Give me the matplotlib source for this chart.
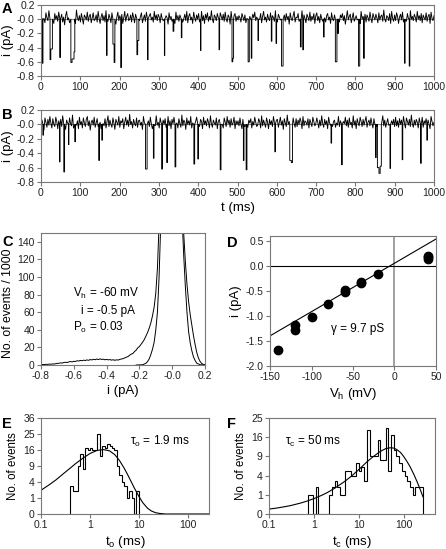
import numpy as np
import matplotlib
matplotlib.use('Agg')
import matplotlib.pyplot as plt

plt.rcParams['font.family'] = ['Liberation Sans', 'DejaVu Sans']
plt.rcParams['mathtext.fontset'] = 'custom'
plt.rcParams['mathtext.rm'] = 'Liberation Sans'
plt.rcParams['mathtext.it'] = 'Liberation Sans:italic'
plt.rcParams['axes.unicode_minus'] = False

# ---- traces A and B: baseline noise (0.01 pA units, 2.5 ms steps) + openings (start ms, dur ms, pA)
noise_a = [4, -3, 7, 1, -5, 9, 2, -2, 12, -4, 3, 6, -1, -6, 8, 0, 5, -3, 10, -2,
           1, 7, -4, 3, -8, 5, 11, -1, 2, -5, 6, 0, 9, -3, 4, -6, 13, 2, -2, 5,
           -4, 8, 1, -7, 6, 3, -1, 10, -3, 4, 7, -5, 2, 9, -2, 0, 6, -4, 11, 1,
           -6, 3, 8, -2, 5, -4, 12, 0, -3, 7, 2, -5, 9, 4, -1, 6, -7, 3, 10, -2,
           5, -1, 7, -6, 2, 11, -3, 4, 8, -2, 0, 6, -4, 9, 3, -5, 7, 1, -3, 12,
           -2, 4, 9, -5, 1, 6, -3, 10, 2, -6, 5, 8, -1, 3, -4, 11, 0, 6, -2, 7,
           3, -5, 8, 1, -2, 13, -4, 5, 2, -7, 9, 0, 4, -3, 7, 2, -6, 10, -1, 5,
           -3, 6, 2, 9, -4, 1, 7, -2, 11, -5, 4, 8, -1, 3, -6, 10, 2, -3, 6, 0,
           8, -4, 3, 11, -2, 5, -6, 7, 1, 9, -3, 4, -1, 12, 0, -5, 6, 3, -2, 8,
           2, -6, 9, 4, -1, 7, -3, 10, 0, -4, 6, 3, -7, 11, 2, -2, 5, 8, -3, 4,
           -1, 5, 2, -4, 8, 3, -2, 6, -5, 1, 9, -3, 4, 0, -6, 7, 2, 10, -2, 3,
           6, -3, 0, 8, -5, 4, 11, -1, 3, -4, 7, 1, -2, 9, -6, 5, 2, -3, 12, 0,
           -4, 7, 3, -1, 10, -5, 2, 6, -3, 8, 0, 4, -7, 9, 1, -2, 5, 11, -4, 3,
           2, 8, -3, 5, -1, 12, -4, 6, 1, -5, 7, 3, -2, 10, -3, 4, 0, 8, -6, 5,
           9, -2, 4, -5, 7, 1, -3, 11, 2, -4, 5, 8, -1, 3, -6, 9, 0, -2, 6, 4,
           -3, 10, 1, -4, 6, 2, 8, -2, 5, -7, 3, 12, -1, 4, 7, -5, 2, 9, -3, 1,
           5, -1, 8, 3, -6, 11, 0, 4, -2, 7, -4, 6, 2, -3, 10, 1, -5, 8, 3, -1,
           7, 2, -5, 9, -1, 4, 6, -3, 13, 0, -4, 5, 3, -2, 8, -6, 11, 1, -3, 6,
           -2, 9, 4, -6, 3, 7, -1, 10, -4, 2, 6, -3, 8, 1, -5, 12, 0, 4, -2, 7,
           3, -4, 11, 0, 5, -2, 8, -5, 6, 2, -1, 9, -3, 4, 7, -6, 10, 1, -2, 5]
noise_b = [-2, 6, 1, -8, 9, 3, -4, 7, -1, 11, 2, -5, 8, 0, -3, 10, 4, -6, 5, 1,
           7, -3, 12, -1, 4, -7, 6, 2, -4, 9, 1, -2, 13, -5, 3, 8, -1, 5, -6, 10,
           0, 4, -5, 9, 2, -3, 7, 11, -2, 5, -8, 3, 6, -1, 10, -4, 2, 8, -3, 6,
           3, -6, 10, 1, -2, 8, -5, 4, 12, -3, 6, 0, -4, 9, 2, -7, 7, 3, -1, 11,
           -4, 5, 2, 8, -6, 3, 10, -1, 6, -3, 14, 0, 4, -5, 7, 1, -2, 9, -4, 5,
           6, -1, 3, -7, 11, 2, -4, 8, 0, 5, -3, 10, 1, -6, 7, 4, -2, 12, -1, 3,
           -5, 9, 2, -3, 6, 0, 8, -4, 3, 11, -2, 5, -6, 7, 1, 10, -3, 4, 2, -5,
           8, 1, -4, 13, -2, 6, 3, -7, 9, 0, 5, -1, 11, -5, 2, 7, -3, 4, 10, -2,
           1, -3, 7, 4, -6, 10, 0, 5, -2, 8, 3, -5, 12, 1, -4, 6, 2, -1, 9, -6,
           4, 7, -2, 5, 0, -5, 9, 3, -3, 11, 1, 6, -4, 8, -1, 2, 10, -6, 5, 0,
           5, -2, 9, 0, -6, 7, 3, -3, 11, 1, -4, 6, 2, 8, -5, 4, -1, 10, 3, -3,
           -1, 8, 4, -5, 12, -2, 6, 1, -4, 9, 3, -6, 7, 0, 5, -3, 11, 2, -1, 6,
           7, -4, 3, 10, -1, 5, -7, 8, 2, -3, 13, 0, 4, -2, 6, -5, 9, 1, -4, 8,
           -3, 6, 0, 9, 4, -6, 11, -2, 5, 3, -1, 8, -5, 7, 2, -3, 10, 4, -2, 1,
           9, 3, -5, 6, -2, 12, 1, -4, 7, 0, 5, -6, 10, 2, -1, 8, -3, 4, 6, -4,
           2, -1, 11, -3, 5, 8, -6, 4, 1, 10, -2, 6, -4, 9, 0, 3, -5, 12, -1, 5,
           -6, 8, 2, -2, 10, 4, -3, 7, -1, 5, 11, -4, 3, 6, -2, 9, 1, -5, 8, 0,
           4, -3, 9, 1, -5, 7, 3, 12, -2, 6, -4, 2, 8, -1, 10, -6, 5, 0, 7, -3,
           10, -2, 5, -4, 8, 0, 6, -3, 11, 2, -5, 9, 4, -1, 7, -3, 13, 1, -4, 6,
           -1, 7, 3, -5, 9, 2, -2, 10, -4, 5, 1, 8, -3, 6, 0, -6, 11, 4, -2, 3]

events_a = [(3, 2, -0.62), (23, 2, -0.57), (25, 4, -0.42), (48, 1, -0.54),
            (76, 3, -0.61), (79, 5, -0.56), (84, 2, -0.46), (167, 1, -0.51),
            (183, 3, -0.35), (186, 2, -0.61), (203, 1.5, -0.68), (244, 2, -0.5),
            (246, 3, -0.3), (271, 1.5, -0.57), (314, 1, -0.51), (336, 2, -0.17),
            (357, 1.5, -0.26), (406, 1, -0.44), (453, 1.5, -0.43), (486, 2, -0.6),
            (488, 2, -0.55), (527, 3, -0.6), (535, 1.5, -0.55), (552, 1.5, -0.3),
            (586, 1.5, -0.31), (598, 1.5, -0.34), (612, 4, -0.66), (660, 2, -0.39),
            (666, 2, -0.43), (719, 1.5, -0.25), (749, 4, -0.6), (755, 2, -0.2),
            (808, 3, -0.66), (821, 1.5, -0.55), (925, 1.5, -0.62), (937, 1.5, -0.66)]
events_b = [(5, 1, -0.15), (47, 1.5, -0.52), (58, 2, -0.66), (70, 1, -0.28),
            (86, 1.5, -0.24), (147, 1.5, -0.5), (155, 1, -0.22), (266, 4, -0.62),
            (286, 1.5, -0.47), (307, 2, -0.62), (320, 1.5, -0.53), (341, 2, -0.59),
            (389, 2, -0.55), (399, 1.5, -0.48), (456, 2, -0.63), (515, 1.5, -0.5),
            (522, 2, -0.63), (595, 1.5, -0.38), (633, 4, -0.5), (637, 3, -0.53),
            (738, 1.5, -0.26), (765, 1.5, -0.56), (851, 2, -0.46), (856, 4, -0.6),
            (860, 3, -0.68), (863, 3, -0.58), (888, 1.5, -0.61), (919, 1.5, -0.49),
            (966, 1.5, -0.54), (982, 1, -0.22)]

# ---- C: all-points histogram (counts / 1000) and Gaussian of closed level
hist_x = np.round(np.arange(-0.80, 0.205, 0.01), 2)
hist_y = [0.5, 0.6, 0.5, 0.8, 0.7, 1.0, 0.9, 1.2, 1.1, 1.5,
          1.8, 2.0, 2.4, 2.2, 2.9, 3.1, 2.8, 3.6, 3.9, 3.5,
          4.2, 4.0, 4.8, 4.5, 5.2, 4.9, 5.5, 5.1, 5.8, 5.3,
          6.2, 5.7, 6.5, 6.0, 6.8, 6.1, 7.0, 6.3, 6.6, 5.9,
          6.4, 5.8, 6.2, 5.5, 6.0, 5.3, 5.9, 5.6, 6.3, 6.8,
          7.2, 8.0, 8.9, 9.5, 11.0, 12.4, 13.0, 15.2, 16.8, 19.5,
          21.0, 23.5, 26.0, 29.0, 33.0, 37.0, 42.0, 48.0, 56.0, 66.0,
          82, 110, 160, 230, 320, 420, 500, 560, 600, 620,
          640, 600, 520, 420, 320, 240, 180, 150, 118, 92,
          72, 57, 45, 33, 23, 14, 8, 4, 1.8, 0.6, 0.2]
gauss_x = [-0.22, -0.18, -0.16, -0.15, -0.14, -0.13, -0.12, -0.11, -0.10, -0.09,
           -0.08, -0.07, -0.05, -0.03, -0.005, 0.02, 0.04, 0.06, 0.07, 0.08,
           0.09, 0.10, 0.11, 0.12, 0.13, 0.14, 0.15, 0.17, 0.20]
gauss_y = [0, 0.3, 2, 4, 7, 12, 18, 26, 40, 60, 100, 160, 330, 520, 620, 520, 330,
           170, 125, 90, 60, 38, 25, 16, 9, 5, 2, 0.3, 0]

# ---- D: i-V relation
vh = [-140, -120, -120, -100, -80, -60, -60, -40, -40, -20, 40, 40, 40]
iv = [-1.68, -1.18, -1.28, -1.02, -0.76, -0.48, -0.53, -0.32, -0.34, -0.16, 0.13, 0.17, 0.20]
fit_v = [-150, 50]
fit_i = [-1.40, 0.53]

# ---- E: open times
open_edges = np.logspace(-0.4, 1.0, 29)
open_counts = [3, 2, 2, 9, 14, 8, 17, 16, 17, 16, 16, 25, 13, 18,
               17, 19, 18, 17, 16, 9, 6, 4, 3, 1, 2, 1, 0, 2]
open_fit_t = [0.1, 0.15, 0.2, 0.3, 0.4, 0.5, 0.7, 1, 1.4, 1.9, 2.5, 3.2, 4, 5, 6,
              7, 8, 10, 12, 15, 18, 22, 27, 35, 50, 270]
open_fit_n = [2.2, 3.4, 4.5, 6.6, 8.3, 9.8, 12.0, 14.3, 15.8, 16.2, 15.6, 13.8, 11.2,
              8.2, 5.8, 4.0, 2.7, 1.2, 0.5, 0.13, 0.035, 0.006, 0.001, 0, 0, 0]

# ---- F: closed times
closed_edges = np.logspace(-0.14, 2.44, 44)
closed_counts = [1, 1, 0, 2, 0, 0, 0, 0, 1, 2, 3, 2, 1, 1, 5, 5, 4, 4, 7, 5, 6, 3,
                 19, 9, 9, 9, 15, 8, 8, 20, 5, 17, 11, 9, 7, 5, 4, 3, 2, 1, 2, 2, 2]
closed_fit_t = [0.1, 0.15, 0.2, 0.3, 0.4, 0.5, 0.7, 1, 1.5, 2, 3, 5, 7, 10, 15, 20,
                30, 40, 50, 60, 70, 85, 100, 120, 140, 170, 200, 235, 270]
closed_fit_n = [0.065, 0.097, 0.13, 0.19, 0.26, 0.32, 0.45, 0.64, 0.95, 1.25, 1.85,
                2.95, 3.95, 5.35, 7.3, 8.7, 10.6, 11.6, 11.9, 11.8, 11.3, 10.3, 9.0,
                7.4, 6.0, 4.2, 2.8, 1.6, 0.8]

GRAY = '#777777'
W, H = 446, 549


def build_trace(noise, events):
    t = np.linspace(0, 1000, len(noise))
    y = np.array(noise) * 0.01
    # openings that touch each other form one burst
    groups = []
    for ev in events:
        if groups and ev[0] <= groups[-1][-1][0] + groups[-1][-1][1] + 0.01:
            groups[-1].append(ev)
        else:
            groups.append([ev])
    keep = np.ones(len(t), bool)
    et, ey = [], []
    for g in groups:
        start, end = g[0][0], g[-1][0] + g[-1][1]
        keep &= ~((t > start - 1.0) & (t < end + 1.0))
        et.append(start)
        ey.append(0.0)
        for t0, dur, amp in g:
            et += [t0, t0 + dur]
            ey += [amp, amp]
        et.append(end)
        ey.append(0.0)
    tt = np.concatenate([t[keep], et])
    yy = np.concatenate([y[keep], ey])
    order = np.argsort(tt, kind='stable')
    return tt[order], yy[order]


def style(ax):
    for s in ax.spines.values():
        s.set_color(GRAY)
        s.set_linewidth(0.8)
    ax.tick_params(direction='out', length=3, width=0.8, color=GRAY,
                   labelsize=7.5, pad=1.5, labelcolor='#222222')


def box(l, t, r, b):
    return [l / W, 1 - b / H, (r - l) / W, (b - t) / H]


fwd = lambda v: np.sqrt(np.clip(v, 0, None))
inv = lambda v: np.square(v)

fig = plt.figure(figsize=(4.46, 5.49), dpi=100)

# A and B
for k, (noise, events, top, bot) in enumerate([(noise_a, events_a, 5, 76),
                                                (noise_b, events_b, 110, 182)]):
    ax = fig.add_axes(box(41, top, 434, bot))
    tt, yy = build_trace(noise, events)
    ax.axhline(0, color='#888888', lw=0.8)
    ax.plot(tt, yy, color='black', lw=0.65)
    ax.set_xlim(0, 1000)
    ax.set_ylim(-0.8, 0.2)
    ax.set_xticks(np.arange(0, 1001, 100))
    ax.set_yticks(np.arange(-0.8, 0.21, 0.2))
    ax.set_yticklabels(['%.1f' % v for v in np.arange(-0.8, 0.21, 0.2)])
    ax.set_ylabel('i (pA)', fontsize=9.5, labelpad=2)
    style(ax)
    if k == 1:
        ax.set_xlabel('t (ms)', fontsize=9.5, labelpad=3)

# C
ax = fig.add_axes(box(41, 233, 205, 365))
ax.plot(hist_x, hist_y, color='black', lw=0.7)
ax.plot(gauss_x, gauss_y, color='black', lw=0.7)
ax.set_xlim(-0.8, 0.2)
ax.set_ylim(0, 150)
ax.set_xticks(np.arange(-0.8, 0.21, 0.2))
ax.set_xticklabels(['%.1f' % v for v in np.arange(-0.8, 0.21, 0.2)])
ax.set_yticks(np.arange(0, 141, 20))
ax.set_xlabel('i (pA)', fontsize=9.5, labelpad=3)
ax.set_ylabel('No. of events / 1000', fontsize=8.8, labelpad=3)
ax.yaxis.set_label_coords(-0.165, 0.47)
ax.text(-0.607, 81, r'V$_\mathrm{h}$ = -60 mV', fontsize=8.5, va='center')
ax.text(-0.556, 61.5, 'i = -0.5 pA', fontsize=8.5, va='center')
ax.text(-0.607, 43, r'P$_\mathrm{o}$ = 0.03', fontsize=8.5, va='center')
style(ax)

# D
ax = fig.add_axes(box(270, 236, 436, 366))
ax.axvline(0, color='#999999', lw=1.3)
ax.axhline(0, color='black', lw=0.8)
ax.plot(fit_v, fit_i, color='black', lw=0.8)
ax.plot(vh, iv, 'o', color='black', ms=6)
ax.set_xlim(-150, 50)
ax.set_ylim(-2.0, 0.59)
ax.set_xticks([-150, -100, -50, 0, 50])
ax.set_yticks(np.arange(-2.0, 0.51, 0.5))
ax.set_yticklabels(['%.1f' % v for v in np.arange(-2.0, 0.51, 0.5)])
ax.set_xlabel(r'V$_\mathrm{h}$ (mV)', fontsize=9.5, labelpad=3)
ax.set_ylabel('i (pA)', fontsize=9.5, labelpad=3)
ax.text(-77, -1.27, 'γ = 9.7 pS', fontsize=8.5, va='center')
style(ax)

# E
ax = fig.add_axes(box(41, 418, 209, 514))
ax.set_xscale('log')
ax.set_yscale('function', functions=(fwd, inv))
ax.stairs(open_counts, open_edges, baseline=0, color='black', lw=0.8)
ax.plot(open_fit_t, open_fit_n, color='black', lw=0.8)
ax.set_xlim(0.1, 270)
ax.set_ylim(0, 36)
ax.set_xticks([0.1, 1, 10, 100])
ax.set_xticklabels(['0.1', '1', '10', '100'])
ax.minorticks_off()
ax.set_yticks([0, 1, 4, 9, 16, 25, 36])
ax.set_yticklabels(['0', '1', '4', '9', '16', '25', '36'])
ax.set_xlabel(r't$_\mathrm{o}$ (ms)', fontsize=9.5, labelpad=3)
ax.set_ylabel('No. of events', fontsize=8.3, labelpad=3)
ax.text(6.6, 20.4, r'τ$_\mathrm{o}$ = 1.9 ms', fontsize=8.5, va='center')
style(ax)

# F
ax = fig.add_axes(box(269, 418, 435, 514))
ax.set_xscale('log')
ax.set_yscale('function', functions=(fwd, inv))
ax.stairs(closed_counts, closed_edges, baseline=0, color='black', lw=0.8)
ax.plot(closed_fit_t, closed_fit_n, color='black', lw=0.8)
ax.set_xlim(0.1, 500)
ax.set_ylim(0, 25)
ax.set_xticks([0.1, 1, 10, 100])
ax.set_xticklabels(['0.1', '1', '10', '100'])
ax.minorticks_off()
ax.set_yticks([0, 1, 4, 9, 16, 25])
ax.set_yticklabels(['0', '1', '4', '9', '16', '25'])
ax.set_xlabel(r't$_\mathrm{c}$ (ms)', fontsize=9.5, labelpad=3)
ax.set_ylabel('No. of events', fontsize=8.3, labelpad=3)
ax.text(0.223, 14.1, r'τ$_\mathrm{c}$ = 50 ms', fontsize=8.5, va='center')
style(ax)

for letter, x, y in [('A', 2, 2), ('B', 2, 108), ('C', 2, 235), ('D', 227, 236),
                     ('E', 2, 417), ('F', 227, 417)]:
    fig.text(x / W, 1 - y / H, letter, fontsize=10.5, fontweight='bold',
             ha='left', va='top')

fig.savefig('out.png', dpi=100)
